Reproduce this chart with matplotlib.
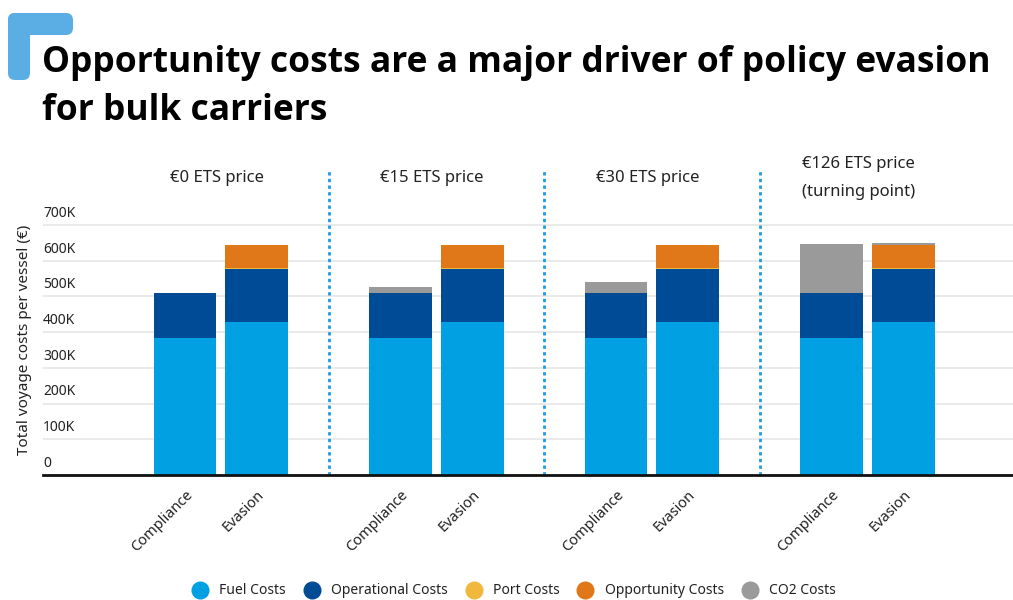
import matplotlib
matplotlib.use("Agg")
import matplotlib.pyplot as plt
from matplotlib.patches import FancyBboxPatch
from matplotlib.lines import Line2D
import matplotlib.transforms as mtransforms
import numpy as np

plt.rcParams['font.family'] = ['Noto Sans', 'DejaVu Sans']

# ---- data (thousands of euros per vessel) ----
scenarios = ["€0 ETS price", "€15 ETS price", "€30 ETS price", "€126 ETS price\n(turning point)"]
strategies = ["Compliance", "Evasion"]

fuel_costs = {"Compliance": [384, 384, 384, 384], "Evasion": [428, 428, 428, 428]}
operational_costs = {"Compliance": [126, 126, 126, 126], "Evasion": [149, 149, 149, 149]}
port_costs = {"Compliance": [1, 1, 1, 1], "Evasion": [3, 3, 3, 3]}
opportunity_costs = {"Compliance": [0, 0, 0, 0], "Evasion": [63, 63, 63, 63]}
co2_costs = {"Compliance": [0, 15, 29, 137], "Evasion": [0, 0, 0, 6]}

components = ["Fuel Costs", "Operational Costs", "Port Costs", "Opportunity Costs", "CO2 Costs"]
component_values = [fuel_costs, operational_costs, port_costs, opportunity_costs, co2_costs]
colors = ["#00A0E3", "#004B96", "#F0B83C", "#E0781A", "#9A9A9A"]

y_ticks = [0, 100, 200, 300, 400, 500, 600, 700]
y_tick_labels = ["0", "100K", "200K", "300K", "400K", "500K", "600K", "700K"]

# ---- figure ----
W, H = 1013, 600
fig = plt.figure(figsize=(W / 100, H / 100), dpi=100)
ax = fig.add_axes([43 / W, 1 - 475 / H, 1 - 43 / W, (475 - 160) / H])

group_x = np.arange(len(scenarios))
offsets = {"Compliance": -0.167, "Evasion": 0.166}
bar_w = 0.292

for strat in strategies:
    xs = group_x + offsets[strat]
    bottom = np.zeros(len(scenarios))
    for vals, col in zip(component_values, colors):
        v = np.array(vals[strat], dtype=float)
        ax.bar(xs, v, width=bar_w, bottom=bottom, color=col, linewidth=0, zorder=3)
        bottom += v

ax.set_xlim(-0.826, 3.675)
ax.set_ylim(0, 315 / (250 / 700))

# gridlines and y tick labels sitting on the lines
ax.set_yticks(y_ticks)
ax.set_yticklabels(y_tick_labels)
ax.yaxis.grid(True, color="#E6E6E6", linewidth=1.2, zorder=0)
ax.tick_params(axis="y", length=0, pad=0, labelsize=10, labelcolor="#222222")
for lbl in ax.get_yticklabels():
    lbl.set_horizontalalignment("left")
    lbl.set_verticalalignment("bottom")
    lbl.set_transform(lbl.get_transform() + mtransforms.ScaledTranslation(0, 3 / 72, fig.dpi_scale_trans))

for s in ["top", "right", "left"]:
    ax.spines[s].set_visible(False)
ax.spines["bottom"].set_linewidth(2)
ax.spines["bottom"].set_color("#111111")
ax.spines["bottom"].set_zorder(4)

# x tick labels: strategy under each bar
tick_pos = []
tick_lab = []
for g in group_x:
    for strat in strategies:
        tick_pos.append(g + offsets[strat])
        tick_lab.append(strat)
ax.set_xticks(tick_pos)
ax.set_xticklabels(tick_lab, rotation=45, ha="right", rotation_mode="anchor", fontsize=10.5, color="#222222")
ax.tick_params(axis="x", length=0, pad=9)

# dotted separators between scenarios
for g in group_x[:-1]:
    ax.plot([g + 0.5, g + 0.5], [0, 300 / (250 / 700) + 10], color="#1E9BE6",
            linestyle=(0, (1.2, 1.2)), linewidth=2, zorder=2, clip_on=False)

# scenario headers
for g, name in zip(group_x, scenarios):
    xfig = ax.transData.transform((g - 0.02, 0))[0] / W
    if "\n" in name:
        first, second = name.split("\n")
        fig.text(xfig - 0.005, 1 - 164 / H, first, ha="center", va="center", fontsize=12, color="#222222")
        fig.text(xfig - 0.005, 1 - 192 / H, second, ha="center", va="center", fontsize=12, color="#222222")
    else:
        fig.text(xfig, 1 - 178 / H, name, ha="center", va="center", fontsize=12, color="#222222")

# y axis label
fig.text(25 / W, 1 - 340 / H, "Total voyage costs per vessel (€)", rotation=90,
         ha="center", va="center", fontsize=11, color="#222222")

# title
title_font = dict(family=["Open Sans", "Noto Sans", "DejaVu Sans"], fontweight="bold",
                  fontsize=25.5, color="#000000")
fig.text(42 / W, 1 - 63 / H, "Opportunity costs are a major driver of policy evasion",
         ha="left", va="center", **title_font)
fig.text(42 / W, 1 - 111 / H, "for bulk carriers",
         ha="left", va="center", **title_font)

# corner mark (drawn in inches from the bottom-left corner)
logo_col = "#5BAEE3"
inch = fig.dpi_scale_trans
fig.patches.append(FancyBboxPatch((8 / 100, (H - 35) / 100), 65 / 100, 22 / 100,
                                  boxstyle="round,pad=0,rounding_size=0.07",
                                  transform=inch, facecolor=logo_col, edgecolor="none"))
fig.patches.append(FancyBboxPatch((8 / 100, (H - 80) / 100), 22 / 100, 67 / 100,
                                  boxstyle="round,pad=0,rounding_size=0.07",
                                  transform=inch, facecolor=logo_col, edgecolor="none"))

# legend
handles = [Line2D([0], [0], marker="o", linestyle="none", markersize=12,
                  markerfacecolor=c, markeredgecolor=c) for c in colors]
fig.legend(handles, components, loc="center", bbox_to_anchor=(511 / W, 1 - 591 / H), ncol=5,
           frameon=False, fontsize=10, handletextpad=0.4, columnspacing=0.85, borderpad=0,
           labelcolor="#222222")

fig.savefig("out.png", dpi=100)
